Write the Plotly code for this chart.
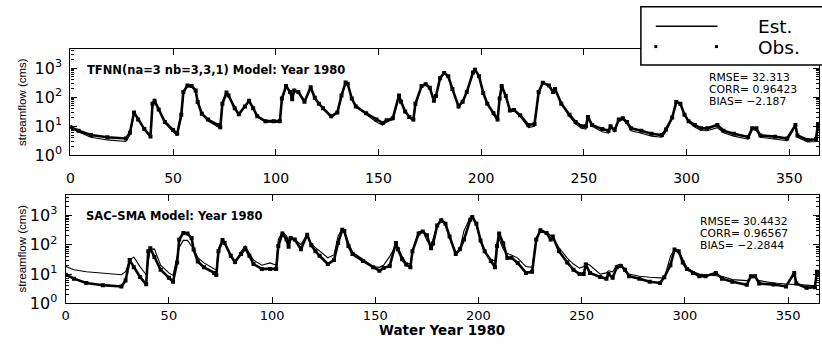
import plotly.graph_objects as go

# ---------------- data ----------------
days = [0, 4, 10, 18, 27, 29, 31, 33, 36, 39,
        40, 41, 43, 46, 50, 52, 54, 55, 57, 59,
        61, 62, 64, 67, 72, 73, 74, 76, 77, 80,
        82, 85, 87, 89, 91, 95, 99, 102, 103, 105,
        107, 108, 109, 111, 114, 117, 119, 121, 123, 127,
        130, 132, 134, 135, 137, 139, 144, 149, 152, 154,
        157, 160, 161, 163, 165, 167, 168, 171, 173, 175,
        177, 178, 180, 182, 184, 186, 189, 191, 193, 196,
        197, 199, 201, 203, 206, 208, 209, 210, 212, 214,
        216, 219, 223, 226, 228, 230, 233, 235, 236, 239,
        243, 246, 249, 251, 252, 254, 259, 262, 263, 265,
        267, 269, 271, 273, 278, 283, 288, 290, 293, 295,
        297, 299, 301, 304, 307, 310, 315, 318, 323, 330,
        332, 334, 336, 343, 349, 353, 354, 359, 363, 364,
        366]

obs = [9.5, 7.0, 5.0, 4.2, 3.8, 6, 30, 17, 8, 4.5,
       60, 75, 38, 14, 7.5, 5.5, 25, 150, 250, 240,
       170, 68, 27, 17, 11, 9.3, 60, 145, 115, 42,
       26, 48, 75, 42, 22, 15, 15, 15, 90, 240,
       150, 85, 170, 150, 70, 220, 95, 60, 42, 22,
       30, 115, 320, 290, 90, 48, 28, 17, 13, 16,
       19, 115, 70, 32, 21, 17, 60, 240, 280, 210,
       75, 110, 450, 680, 520, 190, 48, 70, 150, 700,
       880, 520, 140, 60, 28, 17, 90, 240, 110, 35,
       36, 24, 11, 12, 150, 310, 250, 150, 190, 60,
       25, 14, 10, 10, 21, 11, 8, 7, 10, 7.5,
       17, 19, 14, 8.5, 7, 5.5, 5, 7.8, 20, 68,
       60, 25, 15, 11, 8.5, 8.5, 11, 7, 5.5, 4.3,
       8.5, 8.5, 4.8, 4.4, 3.8, 11, 4.8, 3.4, 3.6, 12,
       12]

est_tfnn = [9.0, 6.3, 4.2, 3.4, 3.0, 5, 28, 18, 8, 4.2,
            50, 72, 38, 13, 6.5, 4.8, 20, 130, 240, 240,
            160, 70, 26, 15, 9.5, 8, 50, 140, 120, 42,
            25, 45, 72, 42, 21, 14, 13.5, 13.5, 80, 230,
            170, 120, 160, 150, 75, 210, 100, 58, 40, 20,
            28, 100, 310, 290, 95, 46, 25, 14, 11, 14,
            17, 110, 75, 32, 20, 15, 50, 230, 280, 210,
            80, 100, 440, 680, 520, 200, 50, 68, 150, 700,
            860, 520, 150, 62, 27, 15, 80, 230, 110, 38,
            34, 22, 9, 10, 130, 300, 260, 160, 180, 60,
            22, 12, 8.5, 8, 18, 10, 6.5, 5.8, 9, 6.5,
            15, 17, 12, 7, 5.8, 4.6, 4.2, 6.5, 18, 65,
            62, 26, 14, 9.5, 7.2, 7, 9, 6, 4.6, 3.6,
            8, 7, 4.2, 3.7, 3.2, 10, 4.2, 2.9, 3.0, 11,
            11]

est_sac = [18, 14, 12, 10.5, 9.5, 12, 30, 38, 18, 9.5,
           30, 70, 72, 20, 11, 9, 40, 80, 140, 140,
           90, 75, 36, 24, 15, 14, 70, 150, 120, 40,
           22, 60, 90, 50, 30, 20, 24, 20, 150, 270,
           200, 130, 170, 150, 100, 230, 110, 80, 60, 36,
           45, 200, 350, 300, 120, 55, 32, 18, 17, 20,
           40, 95, 80, 40, 24, 22, 60, 270, 300, 140,
           90, 150, 480, 720, 460, 170, 55, 75, 300, 850,
           860, 450, 130, 55, 32, 28, 110, 160, 70, 50,
           45, 35, 18, 17, 170, 290, 280, 200, 170, 80,
           35, 22, 16, 18, 24, 20, 10, 11, 13, 12,
           20, 22, 14, 10, 8.5, 7.8, 7.5, 7.3, 40, 70,
           60, 30, 17, 12, 10, 9.5, 9, 8.5, 6.5, 6,
           7.5, 7.5, 6, 5, 4.6, 4.5, 4.4, 4.2, 4.0, 10,
           10]

x_ticks = [0, 50, 100, 150, 200, 250, 300, 350]
y_ticks = [1, 10, 100, 1000]
y_tick_text = ["10<sup>0</sup>", "10<sup>1</sup>", "10<sup>2</sup>", "10<sup>3</sup>"]
y_minor = [m * 10 ** k for k in range(4) for m in range(2, 10) if m * 10 ** k <= 5000]

title_top = "TFNN(na=3 nb=3,3,1) Model: Year 1980"
title_bot = "SAC\u2013SMA Model: Year 1980"
stats_top = ["RMSE= 32.313", "CORR= 0.96423", "BIAS= \u22122.187"]
stats_bot = ["RMSE= 30.4432", "CORR= 0.96567", "BIAS= \u22122.2844"]
x_title = "Water Year 1980"
y_title = "streamflow (cms)"
legend_labels = ["Est.", "Obs."]

# ---------------- layout helpers ----------------
W, H = 822, 347


def px(x):
    return x / W


def py(y):
    return 1 - y / H


fig = go.Figure()

for xa, ya, est in (("x", "y", est_tfnn), ("x2", "y2", est_sac)):
    fig.add_trace(go.Scatter(x=days, y=est, mode="lines",
                             line=dict(color="black", width=1.1),
                             xaxis=xa, yaxis=ya, showlegend=False,
                             name="Est."))
    fig.add_trace(go.Scatter(x=days, y=obs, mode="lines+markers",
                             line=dict(color="black", width=2.6),
                             marker=dict(size=4, symbol="square", color="black"),
                             xaxis=xa, yaxis=ya, showlegend=False,
                             name="Obs."))

axis_common = dict(showline=True, linecolor="black", linewidth=1.3,
                   mirror="ticks", ticks="inside", ticklen=6,
                   tickcolor="black", tickwidth=1.2, showgrid=False,
                   zeroline=False,
                   tickfont=dict(family="DejaVu Sans", size=14, color="black"))

yaxis_common = dict(axis_common, type="log", tickvals=y_ticks,
                    ticktext=y_tick_text, ticklabelstandoff=4,
                    tickfont=dict(family="DejaVu Sans", size=16, color="black"),
                    minor=dict(tickvals=y_minor, ticks="inside", ticklen=3,
                               tickcolor="black", tickwidth=1))

fig.update_layout(
    width=W, height=H, autosize=False,
    margin=dict(l=0, r=0, t=0, b=0),
    paper_bgcolor="white", plot_bgcolor="white",
    xaxis=dict(axis_common, domain=[px(66.7), px(819)], range=[0, 364.5],
               anchor="y", tickvals=x_ticks, ticklabelstandoff=10),
    yaxis=dict(yaxis_common, domain=[py(160), py(50)], range=[0, 3.67],
               anchor="x"),
    xaxis2=dict(axis_common, domain=[px(62), px(819)], range=[0, 365],
                anchor="y2", tickvals=x_ticks, ticklabelstandoff=0,
                tickfont=dict(family="DejaVu Sans", size=13, color="black")),
    yaxis2=dict(yaxis_common, domain=[py(312.5), py(200.5)], range=[0, 3.70],
                anchor="x2"),
)

ann = []
# panel titles
ann.append(dict(x=px(81), y=py(72), xref="paper", yref="paper",
                xanchor="left", yanchor="middle", showarrow=False,
                text="<b>" + title_top + "</b>",
                font=dict(family="DejaVu Sans", size=11.5, color="black")))
ann.append(dict(x=px(80), y=py(222), xref="paper", yref="paper",
                xanchor="left", yanchor="middle", showarrow=False,
                text="<b>" + title_bot + "</b>",
                font=dict(family="DejaVu Sans", size=11.5, color="black")))
# statistics
for i, s in enumerate(stats_top):
    ann.append(dict(x=px(706), y=py(79.5 + 12.6 * i), xref="paper", yref="paper",
                    xanchor="left", yanchor="middle", showarrow=False, text=s,
                    font=dict(family="DejaVu Sans", size=10.8, color="black")))
for i, s in enumerate(stats_bot):
    ann.append(dict(x=px(697), y=py(228 + 12.6 * i), xref="paper", yref="paper",
                    xanchor="left", yanchor="middle", showarrow=False, text=s,
                    font=dict(family="DejaVu Sans", size=10.8, color="black")))
# axis titles
for yc in (105, 256):
    ann.append(dict(x=px(18), y=py(yc), xref="paper", yref="paper",
                    xanchor="center", yanchor="middle", showarrow=False,
                    text=y_title, textangle=-90,
                    font=dict(family="Liberation Sans", size=11.5, color="black")))
ann.append(dict(x=px(440), y=0, xref="paper", yref="paper",
                xanchor="center", yanchor="bottom", showarrow=False,
                borderpad=0, yshift=-2, text="<b>" + x_title + "</b>",
                font=dict(family="DejaVu Sans", size=13.5, color="black")))
# legend texts
ann.append(dict(x=px(756), y=py(27), xref="paper", yref="paper",
                xanchor="left", yanchor="middle", showarrow=False,
                text=legend_labels[0],
                font=dict(family="DejaVu Sans", size=18.5, color="black")))
ann.append(dict(x=px(756), y=py(48.5), xref="paper", yref="paper",
                xanchor="left", yanchor="middle", showarrow=False,
                text=legend_labels[1],
                font=dict(family="DejaVu Sans", size=18.5, color="black")))

shapes = [
    dict(type="rect", xref="paper", yref="paper", x0=px(640), x1=px(830),
         y0=py(67), y1=py(7), fillcolor="white",
         line=dict(color="black", width=1.5), layer="above"),
    dict(type="line", xref="paper", yref="paper", x0=px(655), x1=px(717),
         y0=py(27), y1=py(27), line=dict(color="black", width=1.5),
         layer="above"),
]
for cx in (655, 716):
    shapes.append(dict(type="rect", xref="paper", yref="paper",
                       x0=px(cx - 1.5), x1=px(cx + 1.5),
                       y0=py(49.5), y1=py(46.5), fillcolor="black",
                       line=dict(width=0), layer="above"))

fig.update_layout(annotations=ann, shapes=shapes)

fig.write_html("out.html")
